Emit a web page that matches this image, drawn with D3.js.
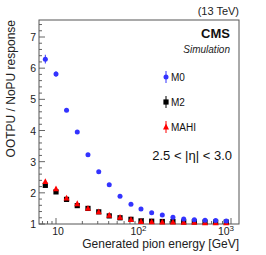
<!DOCTYPE html>
<html><head><meta charset="utf-8">
<script src="https://cdn.jsdelivr.net/npm/d3@7"></script>
<style>body{margin:0;background:#fff}svg{display:block}text{font-family:"Liberation Sans",Arial,sans-serif}</style>
</head><body><svg id="c" width="266" height="255"></svg>
<script>
const energies = [7.55, 10, 13.2, 17.5, 23.2, 30.8, 40.6, 53.9, 71.9, 93.6, 124, 164, 217, 288, 381, 505, 668, 883];
const m0 = [6.29, 5.81, 4.65, 3.95, 3.22, 2.68, 2.26, 1.89, 1.63, 1.48, 1.36, 1.29, 1.22, 1.16, 1.14, 1.12, 1.11, 1.10];
const m0Err = [0.14, 0.09, 0.03, 0.02, 0.02, 0.01, 0.01, 0.01, 0.01, 0.01, 0.01, 0.01, 0.01, 0.01, 0.01, 0.01, 0.01, 0.01];
const m2 = [2.24, 2.03, 1.79, 1.59, 1.50, 1.39, 1.26, 1.20, 1.15, 1.10, 1.09, 1.08, 1.08, 1.07, 1.07, 1.06, 1.06, 1.06];
const mahi = [2.36, 2.13, 1.83, 1.65, 1.50, 1.39, 1.28, 1.21, 1.14, 1.08, 1.07, 1.06, 1.06, 1.05, 1.05, 1.04, 1.04, 1.04];
const yTicks = [1, 2, 3, 4, 5, 6, 7];
const xTickLabels = [{v: 10, base: "10", exp: ""}, {v: 100, base: "10", exp: "2"}, {v: 1000, base: "10", exp: "3"}];
const legendNames = ["M0", "M2", "MAHI"];

const L = 39, R = 239, T = 20, B = 224;
const x = d3.scaleLog().domain([10, 1000]).range([56, 231]);
const y = d3.scaleLinear().domain([1, 7]).range([B, 37]);
const svg = d3.select("#c");
const axisCol = "#666";

const g = svg.append("g");
for (let v = 1; v <= 7.5; v += 0.2) {
  const vv = Math.round(v * 10) / 10;
  const major = Math.abs(vv - Math.round(vv)) < 1e-6;
  g.append("line").attr("x1", L).attr("x2", L + (major ? 6 : 3))
    .attr("y1", y(vv)).attr("y2", y(vv)).attr("stroke", axisCol).attr("stroke-width", 1);
}
const xmin = x.invert(L), xmax = x.invert(R);
for (let d = 1; d <= 1000; d *= 10) {
  for (let k = 1; k <= 9; k++) {
    const v = d * k;
    if (v < xmin || v > xmax) continue;
    const major = k === 1;
    g.append("line").attr("x1", x(v)).attr("x2", x(v))
      .attr("y1", B).attr("y2", B - (major ? 6 : 3)).attr("stroke", axisCol).attr("stroke-width", 1);
  }
}
svg.append("rect").attr("x", L).attr("y", T).attr("width", R - L).attr("height", B - T)
  .attr("fill", "none").attr("stroke", "#555").attr("stroke-width", 1);

yTicks.forEach(v => {
  svg.append("text").attr("x", L - 3).attr("y", y(v) + 4).attr("text-anchor", "end")
    .attr("font-size", 10.5).attr("fill", "#222").text(v);
});
xTickLabels.forEach(t => {
  const tx = svg.append("text").attr("y", 235).attr("font-size", 10.5).attr("fill", "#222");
  if (t.exp) {
    tx.attr("x", x(t.v) - 5).attr("text-anchor", "middle");
    tx.append("tspan").text(t.base);
    tx.append("tspan").attr("dy", -4).attr("font-size", 8).text(t.exp);
  } else {
    tx.attr("x", x(t.v) + 2).attr("text-anchor", "middle").text(t.base);
  }
});
svg.append("text").attr("x", R).attr("y", 248).attr("text-anchor", "end")
  .attr("font-size", 12).attr("fill", "#222").text("Generated pion energy [GeV]");
svg.append("text").attr("transform", `translate(15,${T}) rotate(-90)`).attr("text-anchor", "end")
  .attr("font-size", 12).attr("fill", "#222").text("OOTPU / NoPU response");

svg.append("text").attr("x", R).attr("y", 15).attr("text-anchor", "end").attr("font-size", 11).attr("fill", "#222").text("(13 TeV)");
svg.append("text").attr("x", 230).attr("y", 38).attr("text-anchor", "end").attr("font-size", 13).attr("font-weight", "bold").attr("fill", "#111").text("CMS");
svg.append("text").attr("x", 230).attr("y", 53).attr("text-anchor", "end").attr("font-size", 10).attr("font-style", "italic").attr("fill", "#222").text("Simulation");
svg.append("text").attr("x", 232).attr("y", 160).attr("text-anchor", "end").attr("font-size", 13).attr("fill", "#111").text("2.5 < |η| < 3.0");

const colors = ["#3333ff", "#000000", "#ff0000"];
function marker(sel, kind, cx, cy) {
  if (kind === 0) sel.append("circle").attr("cx", cx).attr("cy", cy).attr("r", 2.5).attr("fill", colors[0]);
  else if (kind === 1) sel.append("rect").attr("x", cx - 2.6).attr("y", cy - 2.6).attr("width", 5.2).attr("height", 5.2).attr("fill", colors[1]);
  else sel.append("path").attr("d", `M${cx},${cy - 3.4}L${cx + 3},${cy + 2.4}L${cx - 3},${cy + 2.4}Z`).attr("fill", colors[2]);
}
const pts = svg.append("g");
energies.forEach((e, i) => marker(pts, 1, x(e), y(m2[i])));
energies.forEach((e, i) => marker(pts, 2, x(e), y(mahi[i])));
energies.forEach((e, i) => {
  pts.append("line").attr("x1", x(e)).attr("x2", x(e)).attr("y1", y(m0[i] - m0Err[i])).attr("y2", y(m0[i] + m0Err[i]))
    .attr("stroke", colors[0]).attr("stroke-width", 1);
  marker(pts, 0, x(e), y(m0[i]));
});

const legY = [77, 102, 127];
legendNames.forEach((n, i) => {
  const lx = 166, ly = legY[i];
  svg.append("line").attr("x1", lx).attr("x2", lx).attr("y1", ly - 6).attr("y2", ly + 6).attr("stroke", colors[i]).attr("stroke-width", 1);
  marker(svg, i, lx, ly);
  svg.append("text").attr("x", 171).attr("y", ly + 4).attr("font-size", 10).attr("fill", "#111").text(n);
});
</script></body></html>
